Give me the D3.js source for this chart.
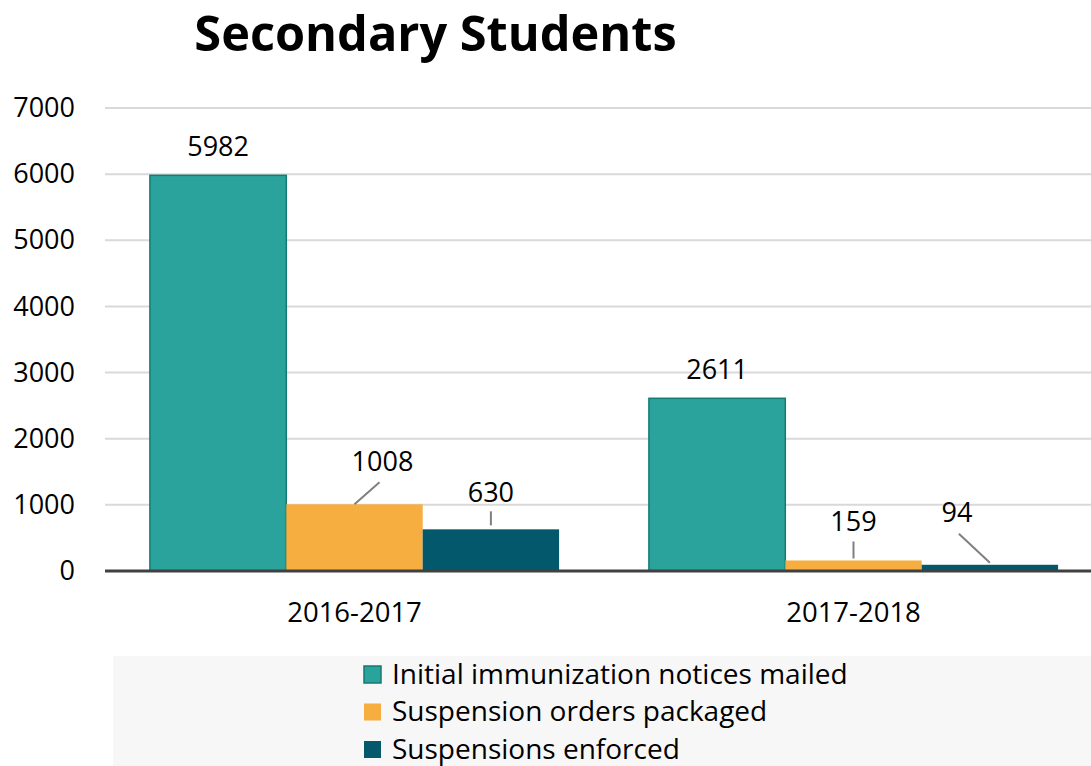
<!DOCTYPE html>
<html><head><meta charset="utf-8">
<script src="https://cdn.jsdelivr.net/npm/d3@7"></script>
<style>body{margin:0;background:#fff;}svg{display:block;}text{font-family:"Open Sans","Noto Sans",sans-serif;}</style>
</head><body>
<svg id="c" width="1091" height="766"></svg>
<script>
const categories = ["2016-2017", "2017-2018"];
const seriesNames = ["Initial immunization notices mailed", "Suspension orders packaged", "Suspensions enforced"];
const initialNotices = [5982, 2611];
const suspensionOrders = [1008, 159];
const suspensionsEnforced = [630, 94];
const yTicks = [0, 1000, 2000, 3000, 4000, 5000, 6000, 7000];
const title = "Secondary Students";

const fills = ["#2aa39c", "#f5ae3f", "#03596b"];
const strokes = ["#137a74", "none", "none"];
// label offsets (dx, dy of text center from bar top center) and leader lines
const labelCfg = [
  [{dx:0,dy:-29,line:null},{dx:0,dy:-29,line:null}],
  [{dx:28,dy:-43,line:[0,0,25,-22]},{dx:0,dy:-39,line:[0,-2,0,-19]}],
  [{dx:0,dy:-37,line:[0,-4,0,-18]},{dx:-33,dy:-52,line:[0,-2,-31,-31]}]
];

const svg = d3.select("#c");
const values = [initialNotices, suspensionOrders, suspensionsEnforced];

const y = d3.scaleLinear().domain([0, 7000]).range([571, 108]);
const x0 = d3.scaleBand().domain(categories).range([105, 1103]).paddingInner(0.18).paddingOuter(0.09);
const x1 = d3.scaleBand().domain(d3.range(3)).range([0, x0.bandwidth()]);

svg.append("text").attr("x", 435.5).attr("y", 51).attr("text-anchor", "middle")
  .attr("font-size", 48.7).attr("font-weight", 700).attr("fill", "#000").text(title);

// gridlines
svg.append("g").selectAll("line").data(yTicks.filter(d => d > 0)).join("line")
  .attr("x1", 105).attr("x2", 1091).attr("y1", d => y(d)).attr("y2", d => y(d))
  .attr("stroke", "#d9d9d9").attr("stroke-width", 2);

// y axis labels
const yAxis = d3.axisLeft(y).tickValues(yTicks).tickSize(0).tickPadding(30).tickFormat(d3.format("d"));
const ya = svg.append("g").attr("transform", "translate(105,0)").call(yAxis);
ya.select(".domain").remove();
ya.selectAll("text").attr("font-size", 27).attr("fill", "#000").attr("font-family", "Open Sans, sans-serif");

// bars
const groups = svg.append("g").selectAll("g").data(categories).join("g")
  .attr("transform", d => `translate(${x0(d)},0)`);
groups.each(function(cat, ci) {
  const g = d3.select(this);
  values.forEach((arr, si) => {
    const v = arr[ci];
    g.append("rect").attr("x", x1(si)).attr("width", x1.bandwidth())
      .attr("y", y(v)).attr("height", y(0) - y(v))
      .attr("fill", fills[si]).attr("stroke", strokes[si]).attr("stroke-width", 1.5);
    const cfg = labelCfg[si][ci];
    const cx = x1(si) + x1.bandwidth() / 2, top = y(v);
    if (cfg.line) {
      g.append("line").attr("x1", cx + cfg.line[0]).attr("y1", top + cfg.line[1])
        .attr("x2", cx + cfg.line[2]).attr("y2", top + cfg.line[3])
        .attr("stroke", "#7f7f7f").attr("stroke-width", 2);
    }
    g.append("text").attr("x", cx + cfg.dx).attr("y", top + cfg.dy).attr("dy", "0.35em")
      .attr("text-anchor", "middle").attr("font-size", 27).attr("fill", "#000").text(d3.format("d")(v));
  });
});

// x axis
const xAxis = d3.axisBottom(x0).tickSize(0).tickPadding(31);
const xa = svg.append("g").attr("transform", "translate(0,571)").call(xAxis);
xa.select(".domain").remove();
xa.selectAll("text").attr("font-size", 27.5).attr("fill", "#000").attr("font-family", "Open Sans, sans-serif");
svg.append("line").attr("x1", 105).attr("x2", 1091).attr("y1", 571).attr("y2", 571)
  .attr("stroke", "#404040").attr("stroke-width", 3);

// legend
svg.append("rect").attr("x", 113).attr("y", 656).attr("width", 978).attr("height", 110).attr("fill", "#f7f7f7");
const lg = svg.append("g").selectAll("g").data(seriesNames).join("g")
  .attr("transform", (d, i) => `translate(363,${674 + i * 37.5})`);
lg.append("rect").attr("x", 1).attr("y", -8).attr("width", 17).attr("height", 17)
  .attr("fill", (d, i) => fills[i]).attr("stroke", (d, i) => strokes[i]).attr("stroke-width", 1.5);
lg.append("text").attr("x", 29).attr("y", 0).attr("dy", "0.35em").attr("font-size", 28).attr("fill", "#000").text(d => d);
</script>
</body></html>
